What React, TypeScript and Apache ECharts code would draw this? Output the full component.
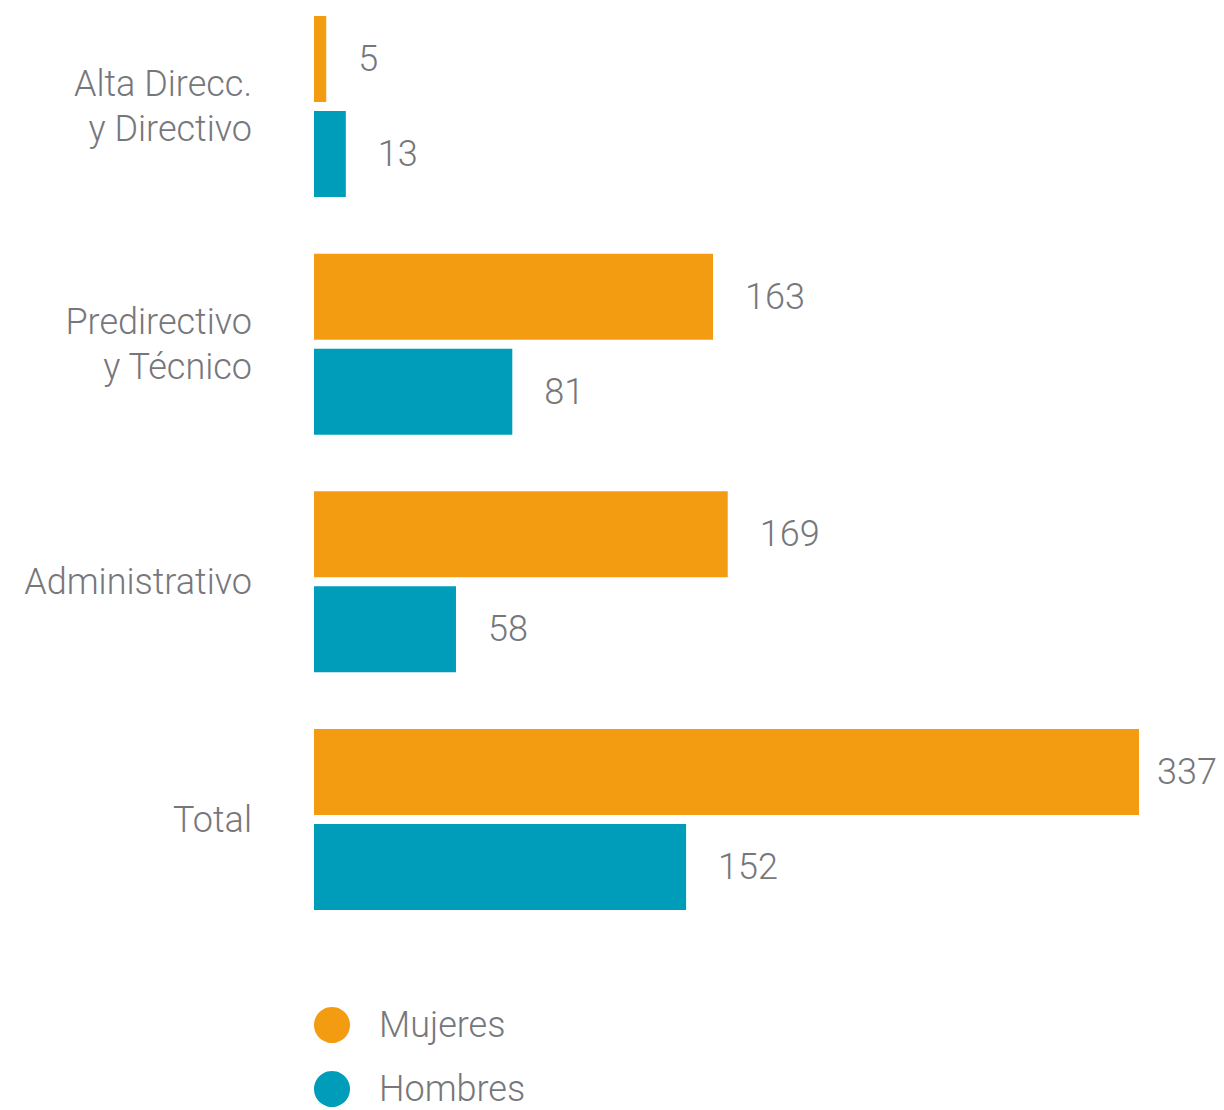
import React, { useEffect, useRef } from "react";
import * as echarts from "echarts";

const categories = ["Alta Direcc.\ny Directivo", "Predirectivo\ny Técnico", "Administrativo", "Total"];
const mujeres = [5, 163, 169, 337];
const hombres = [13, 81, 58, 152];
const seriesNames = ["Mujeres", "Hombres"];

const ORANGE = "#F39C12";
const TEAL = "#009DBB";
const GRAY = "#77777B";
const FONT = "Roboto";

export default function App() {
  const ref = useRef<HTMLDivElement>(null);
  useEffect(() => {
    document.body.style.margin = "0";
    const chart = echarts.init(ref.current!, null, { renderer: "svg" });
    const maxVal = Math.max(...mujeres, ...hombres);
    const labelCfg = {
      show: true,
      position: "right",
      distance: 32,
      color: GRAY,
      fontSize: 36,
      fontFamily: FONT,
      fontWeight: 300,
    };
    const toItems = (arr: number[]) =>
      arr.map((v) => (v === maxVal ? { value: v, label: { distance: 18 } } : v));
    chart.setOption({
      animation: false,
      backgroundColor: "#ffffff",
      grid: { left: 314, top: 106.5, width: 825, height: 713, containLabel: false },
      xAxis: { type: "value", min: 0, max: 337, show: false },
      yAxis: {
        type: "category",
        inverse: true,
        boundaryGap: false,
        data: categories,
        axisLine: { show: false },
        axisTick: { show: false },
        splitLine: { show: false },
        axisLabel: {
          margin: 62,
          color: GRAY,
          fontSize: 36,
          lineHeight: 45,
          fontFamily: FONT,
          fontWeight: 300,
          align: "right",
        },
      },
      legend: {
        orient: "vertical",
        left: 314,
        top: 1007,
        padding: 0,
        icon: "circle",
        itemWidth: 36,
        itemHeight: 36,
        itemGap: 28,
        textStyle: { color: GRAY, fontSize: 36, fontFamily: FONT, fontWeight: 300, padding: [0, 0, 0, 24] },
        data: seriesNames,
      },
      series: [
        {
          name: seriesNames[0],
          type: "bar",
          data: toItems(mujeres),
          barWidth: 86,
          barGap: "10.5%",
          clip: false,
          itemStyle: { color: ORANGE },
          label: labelCfg,
        },
        {
          name: seriesNames[1],
          type: "bar",
          data: toItems(hombres),
          barWidth: 86,
          barGap: "10.5%",
          clip: false,
          itemStyle: { color: TEAL },
          label: labelCfg,
        },
      ],
    });
    return () => chart.dispose();
  }, []);
  return <div ref={ref} style={{ width: 1224, height: 1110 }} />;
}
